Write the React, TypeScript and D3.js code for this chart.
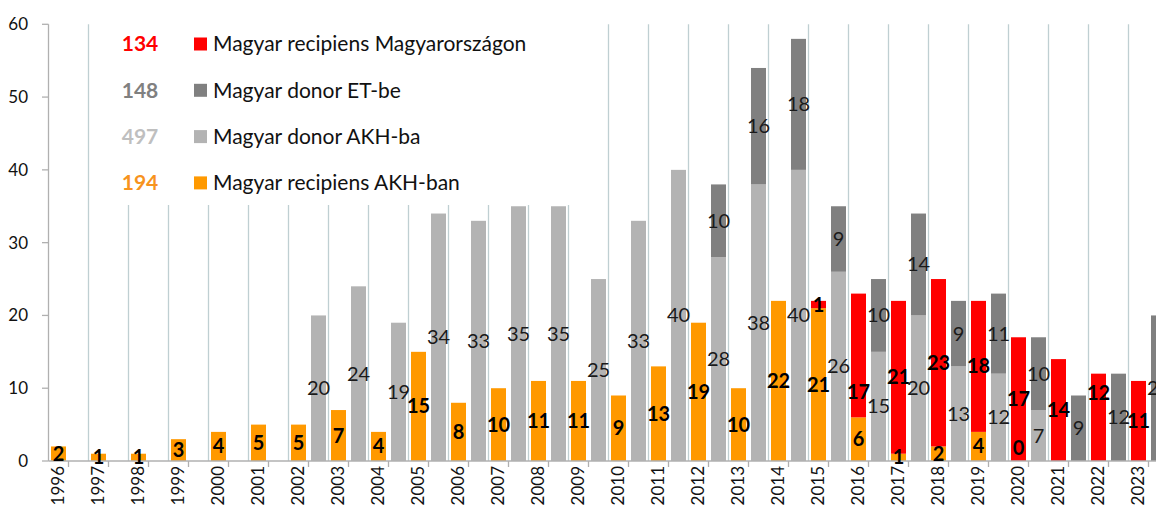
import React from 'react';
import * as d3 from 'd3';

const years = [1996, 1997, 1998, 1999, 2000, 2001, 2002, 2003, 2004, 2005, 2006, 2007, 2008, 2009, 2010, 2011, 2012, 2013, 2014, 2015, 2016, 2017, 2018, 2019, 2020, 2021, 2022, 2023, 2024];
const yearLabels = ['1996', '1997', '1998', '1999', '2000', '2001', '2002', '2003', '2004', '2005', '2006', '2007', '2008', '2009', '2010', '2011', '2012', '2013', '2014', '2015', '2016', '2017', '2018', '2019', '2020', '2021', '2022', '2023'];
// Magyar donor AKH-ba (light grey, bottom of donor stack)
const donorAKH: (number | null)[] = [null, null, null, null, null, null, null, 20, 24, 19, 34, 33, 35, 35, 25, 33, 40, 28, 38, 40, 26, 15, 20, 13, 12, 7, null, null, null];
// Magyar donor ET-be (dark grey, top of donor stack)
const donorET: (number | null)[] = [null, null, null, null, null, null, null, null, null, null, null, null, null, null, null, null, null, 10, 16, 18, 9, 10, 14, 9, 11, 10, 9, 12, 20];
// Magyar recipiens AKH-ban (orange, bottom of recipient stack)
const recipAKH: (number | null)[] = [2, 1, 1, 3, 4, 5, 5, 7, 4, 15, 8, 10, 11, 11, 9, 13, 19, 10, 22, 21, 6, 1, 2, 4, 0, null, null, null, null];
// Magyar recipiens Magyarországon (red, top of recipient stack)
const recipHU: (number | null)[] = [null, null, null, null, null, null, null, null, null, null, null, null, null, null, null, null, null, null, null, 1, 17, 21, 23, 18, 17, 14, 12, 11, null];

const yTicks = [0, 10, 20, 30, 40, 50, 60];

const legendItems = [
  { total: '134', name: 'Magyar recipiens Magyarországon', color: '#FF0000', totalColor: '#FF0000' },
  { total: '148', name: 'Magyar donor ET-be', color: '#808080', totalColor: '#808080' },
  { total: '497', name: 'Magyar donor AKH-ba', color: '#B3B3B3', totalColor: '#BFBFBF' },
  { total: '194', name: 'Magyar recipiens AKH-ban', color: '#FF9900', totalColor: '#F7931E' },
];

// manually moved data labels (label centre given in value units)
const labelMoves: Record<string, number> = { 'hu-2016': 9.5, 'hu-2022': 9.3, 'akh-2020': 1.8 };

const W = 1156;
const H = 507;
const FONT = 'Lato, "Open Sans", sans-serif';
const C_AKH_D = '#B3B3B3';
const C_ET = '#808080';
const C_ORANGE = '#FF9900';
const C_RED = '#FF0000';

export default function App() {
  const slots = d3.range(57);
  const x = d3.scaleBand<number>().domain(slots).range([48.5, 48.5 + 20 * 57]).padding(0);
  const y = d3.scaleLinear().domain([0, 60]).range([461, 24.3]);
  const bw = x.bandwidth() * 0.75;
  const barX = (s: number) => (x(s) as number) + (x.bandwidth() - bw) / 2;
  const cx = (s: number) => (x(s) as number) + x.bandwidth() / 2;

  const bars: any[] = [];
  const labels: any[] = [];

  years.forEach((yr, i) => {
    const ds = 2 * i - 1;
    const rs = 2 * i;
    if (ds >= 0) {
      const a = donorAKH[i];
      const e = donorET[i];
      let base = 0;
      if (a != null) {
        bars.push({ key: `a${yr}`, x: barX(ds), y0: 0, y1: a, color: C_AKH_D });
        labels.push({ key: `la${yr}`, x: cx(ds), v: a / 2, text: String(a), bold: false });
        base = a;
      }
      if (e != null) {
        bars.push({ key: `e${yr}`, x: barX(ds), y0: base, y1: base + e, color: C_ET });
        labels.push({ key: `le${yr}`, x: cx(ds), v: base + e / 2, text: String(e), bold: false });
      }
    }
    const o = recipAKH[i];
    const r = recipHU[i];
    let base = 0;
    if (o != null) {
      if (o > 0) bars.push({ key: `o${yr}`, x: barX(rs), y0: 0, y1: o, color: C_ORANGE });
      const mv = labelMoves[`akh-${yr}`];
      labels.push({ key: `lo${yr}`, x: cx(rs), v: mv != null ? mv : o / 2, text: String(o), bold: true });
      base = o;
    }
    if (r != null) {
      bars.push({ key: `r${yr}`, x: barX(rs), y0: base, y1: base + r, color: C_RED });
      const mv = labelMoves[`hu-${yr}`];
      labels.push({ key: `lr${yr}`, x: cx(rs), v: mv != null ? mv : base + r / 2, text: String(r), bold: true });
    }
  });

  const gridXs = d3.range(1, 29).map((i) => x(2 * i) as number);
  const tickXs = d3.range(0, 28).map((i) => x(2 * i + 1) as number);

  return (
    <svg width={W} height={H} style={{ position: 'absolute', left: 0, top: 0, display: 'block', background: '#fff' }} fontFamily={FONT}>
      <rect x={0} y={0} width={W} height={H} fill="#fff" />
      {gridXs.map((gx, i) => (
        <line key={`g${i}`} x1={gx} x2={gx} y1={y(60)} y2={y(0)} stroke="#BFCFD2" strokeWidth={1.3} />
      ))}
      <rect x={91} y={20} width={512} height={185} fill="#fff" />
      <line x1={48.5} x2={48.5} y1={y(60)} y2={y(0)} stroke="#B0B0B0" strokeWidth={1.3} />
      {yTicks.map((t) => (
        <g key={`yt${t}`}>
          <line x1={42} x2={48.5} y1={y(t)} y2={y(t)} stroke="#B0B0B0" strokeWidth={1.3} />
          <text x={28} y={y(t)} dy="0.35em" textAnchor="end" fontSize={17} fill="#111">{t}</text>
        </g>
      ))}
      {bars.map((b) => (
        <rect key={b.key} x={b.x} y={y(b.y1)} width={bw} height={y(b.y0) - y(b.y1)} fill={b.color} />
      ))}
      <line x1={48.5} x2={W} y1={y(0)} y2={y(0)} stroke="#B0B0B0" strokeWidth={1.3} />
      {tickXs.map((tx, i) => (
        <line key={`xt${i}`} x1={tx} x2={tx} y1={y(0)} y2={y(0) + 6} stroke="#B0B0B0" strokeWidth={1.3} />
      ))}
      {yearLabels.map((lab, i) => {
        const lx = cx(2 * i);
        const ly = 466;
        return (
          <text key={`xl${lab}`} x={lx} y={ly} dy="0.35em" textAnchor="end" fontSize={17} fill="#111" transform={`rotate(-90 ${lx} ${ly})`}>{lab}</text>
        );
      })}
      {labels.map((l) => (
        <text key={l.key} x={l.x} y={y(l.v)} dy="0.35em" textAnchor="middle" fontSize={20} fontWeight={l.bold ? 700 : 400} fill={l.bold ? '#000' : '#1A1A1A'}>{l.text}</text>
      ))}
      {legendItems.map((it, i) => {
        const ly = 44 + i * 46.3;
        return (
          <g key={`lg${i}`}>
            <text x={140} y={ly} dy="0.35em" textAnchor="middle" fontSize={21} fontWeight={700} fill={it.totalColor}>{it.total}</text>
            <rect x={194} y={ly - 6.5} width={13} height={13} fill={it.color} />
            <text x={213} y={ly} dy="0.35em" fontSize={21} fill="#111">{it.name}</text>
          </g>
        );
      })}
    </svg>
  );
}
